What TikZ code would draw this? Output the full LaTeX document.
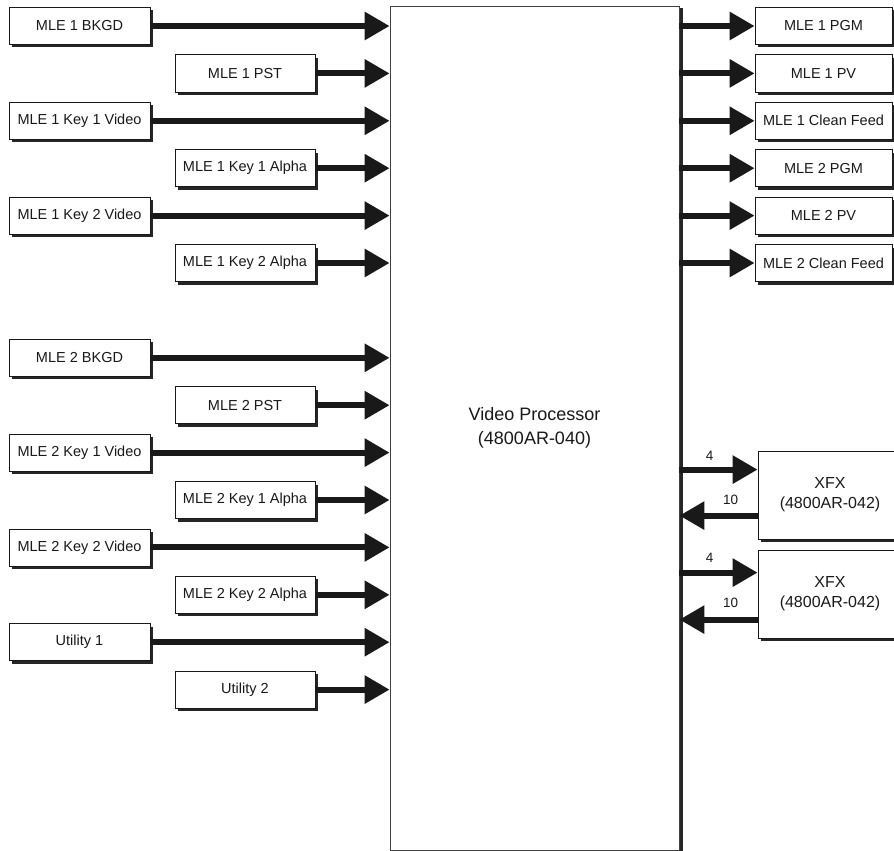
\documentclass[tikz,border=0pt]{standalone}
\usepackage{fontspec}
\setmainfont{Liberation Sans}
\usepackage{tikz}
\usetikzlibrary{arrows.meta}
\usetikzlibrary{shadows}
\usetikzlibrary{positioning}
\tikzstyle{box}=[draw=black!90,fill=white,line width=0.8pt,minimum height=37pt,inner sep=1pt,text=black!90,font=\fontsize{14.5}{17}\selectfont,drop shadow={shadow xshift=3pt,shadow yshift=-3pt,fill=black!85,opacity=1}]
\tikzstyle{srcA}=[box,minimum width=141pt]
\tikzstyle{srcB}=[box,minimum width=140pt]
\tikzstyle{dst}=[box,minimum width=137pt]
\tikzstyle{fx}=[box,minimum width=144pt,minimum height=88pt,align=center,font=\fontsize{16}{20}\selectfont]
\tikzstyle{proc}=[draw=black!75,fill=white,line width=0.8pt,minimum width=289pt,minimum height=844pt,align=center,text=black!90,font=\fontsize{18}{24}\selectfont,drop shadow={shadow xshift=3.5pt,shadow yshift=-2pt,fill=black!85,opacity=1}]
\tikzstyle{sig}=[line width=6pt,black!90,-{Triangle[length=25pt,width=27pt]}]
\tikzstyle{num}=[text=black!90,font=\fontsize{13.5}{16}\selectfont,inner sep=1pt]

\begin{document}
\begin{tikzpicture}[x=1pt,y=-1pt]
\useasboundingbox (0,0) rectangle (894,851);
\clip (0,0) rectangle (894,851);

\node [proc] (vp) at (534.5,428) {Video Processor\\(4800AR-040)};

\node [srcA] (a1) at (79.5,26) {MLE 1 BKGD};
\node [srcB] (a2) at (245,73.4) {MLE 1 PST};
\node [srcA] (a3) at (79.5,120.8) {MLE 1 Key 1 Video};
\node [srcB] (a4) at (245,168.2) {MLE 1 Key 1 Alpha};
\node [srcA] (a5) at (79.5,215.6) {MLE 1 Key 2 Video};
\node [srcB] (a6) at (245,263) {MLE 1 Key 2 Alpha};
\node [srcA] (b1) at (79.5,357.8) {MLE 2 BKGD};
\node [srcB] (b2) at (245,405.2) {MLE 2 PST};
\node [srcA] (b3) at (79.5,452.6) {MLE 2 Key 1 Video};
\node [srcB] (b4) at (245,500) {MLE 2 Key 1 Alpha};
\node [srcA] (b5) at (79.5,547.4) {MLE 2 Key 2 Video};
\node [srcB] (b6) at (245,594.8) {MLE 2 Key 2 Alpha};
\node [srcA] (u1) at (79.5,642.2) {Utility 1};
\node [srcB] (u2) at (245,689.6) {Utility 2};

\node [dst] (p1) at (823.5,26) {MLE 1 PGM};
\node [dst] (p2) at (823.5,73.4) {MLE 1 PV};
\node [dst] (p3) at (823.5,120.8) {MLE 1 Clean Feed};
\node [dst] (q1) at (823.5,168.2) {MLE 2 PGM};
\node [dst] (q2) at (823.5,215.6) {MLE 2 PV};
\node [dst] (q3) at (823.5,263) {MLE 2 Clean Feed};

\node [fx] (x1) at (830,495) {XFX\\(4800AR-042)};
\node [fx] (x2) at (830,594) {XFX\\(4800AR-042)};

\draw [sig] (a1) -- (a1 -| vp.west);
\draw [sig] (a2) -- (a2 -| vp.west);
\draw [sig] (a3) -- (a3 -| vp.west);
\draw [sig] (a4) -- (a4 -| vp.west);
\draw [sig] (a5) -- (a5 -| vp.west);
\draw [sig] (a6) -- (a6 -| vp.west);
\draw [sig] (b1) -- (b1 -| vp.west);
\draw [sig] (b2) -- (b2 -| vp.west);
\draw [sig] (b3) -- (b3 -| vp.west);
\draw [sig] (b4) -- (b4 -| vp.west);
\draw [sig] (b5) -- (b5 -| vp.west);
\draw [sig] (b6) -- (b6 -| vp.west);
\draw [sig] (u1) -- (u1 -| vp.west);
\draw [sig] (u2) -- (u2 -| vp.west);

\draw [sig] (p1 -| vp.east) -- (p1);
\draw [sig] (p2 -| vp.east) -- (p2);
\draw [sig] (p3 -| vp.east) -- (p3);
\draw [sig] (q1 -| vp.east) -- (q1);
\draw [sig] (q2 -| vp.east) -- (q2);
\draw [sig] (q3 -| vp.east) -- (q3);

\coordinate (x1in) at ([yshift=-19pt]x1.north west);
\coordinate (x1out) at ([yshift=-65pt]x1.north west);
\coordinate (x2in) at ([yshift=-23pt]x2.north west);
\coordinate (x2out) at ([yshift=-70pt]x2.north west);
\draw [sig] (x1in -| vp.east) -- (x1in);
\draw [sig] (x1out) -- (x1out -| vp.east);
\draw [sig] (x2in -| vp.east) -- (x2in);
\draw [sig] (x2out) -- (x2out -| vp.east);

\node [num] at (x1in) [xshift=-48pt,yshift=14pt] {4};
\node [num] at (x1out) [xshift=-27pt,yshift=16pt] {10};
\node [num] at (x2in) [xshift=-48pt,yshift=15pt] {4};
\node [num] at (x2out) [xshift=-27pt,yshift=17pt] {10};

\end{tikzpicture}
\end{document}
